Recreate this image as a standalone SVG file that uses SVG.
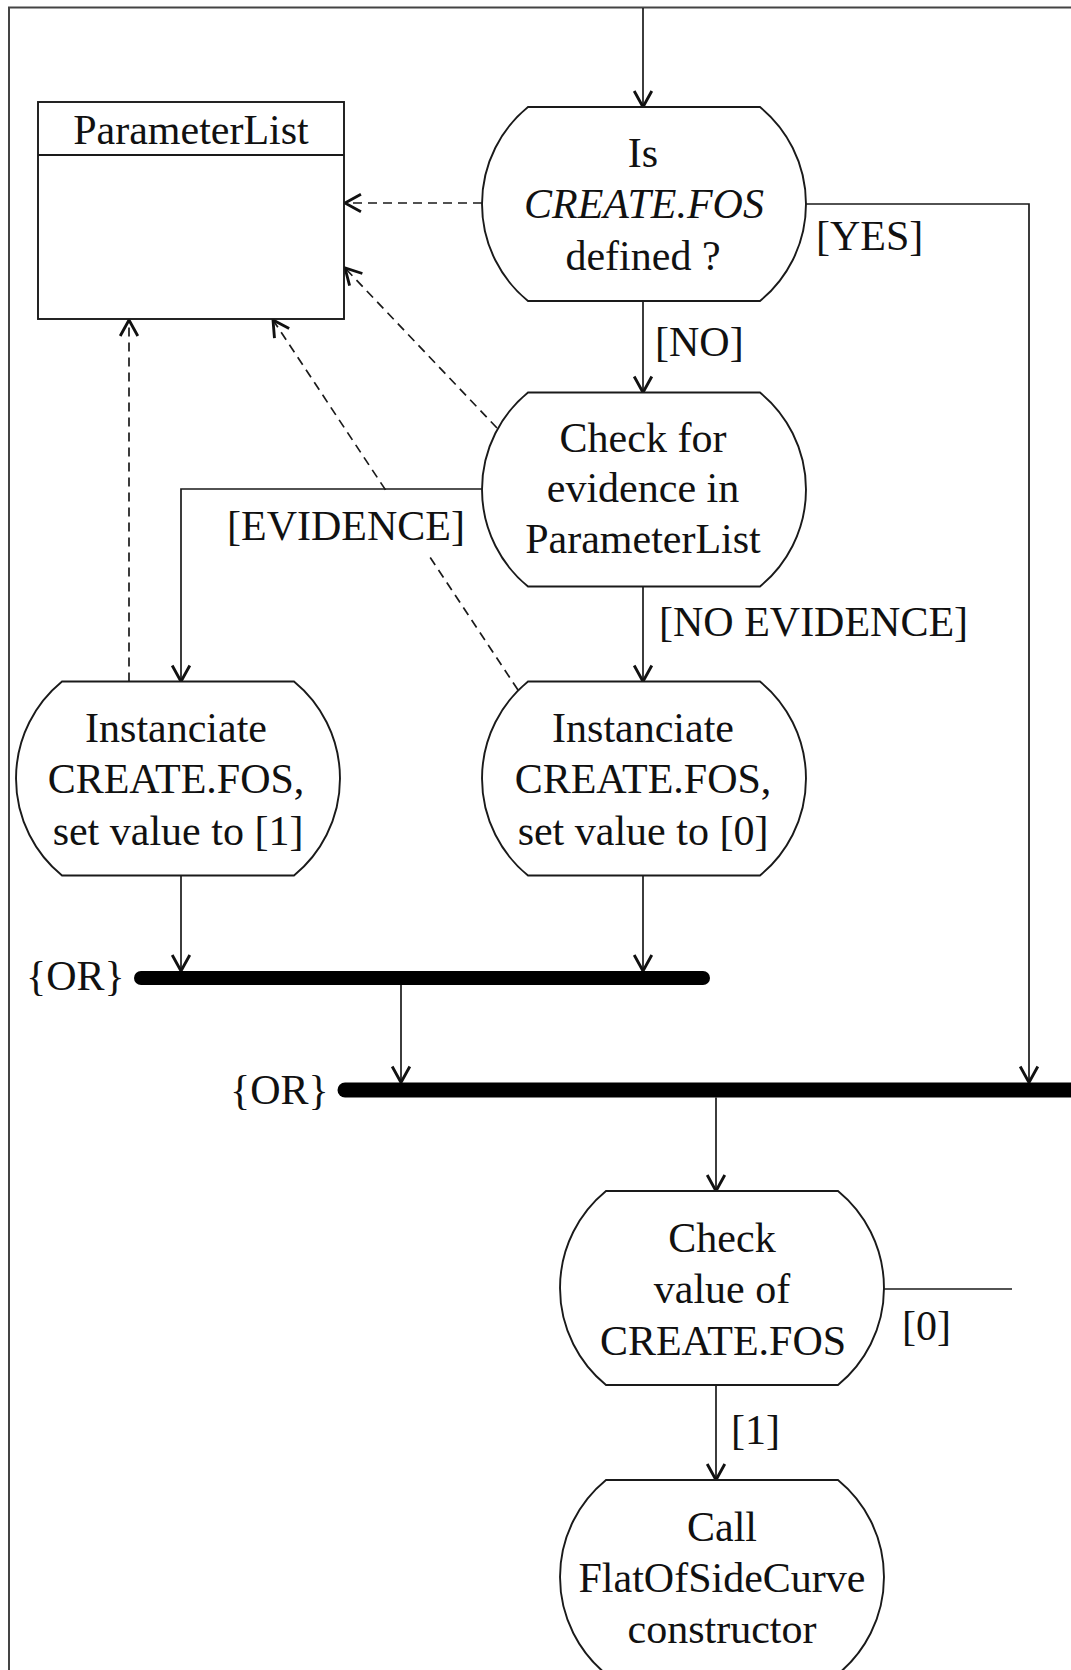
<svg xmlns="http://www.w3.org/2000/svg" width="1071" height="1670" viewBox="0 0 1071 1670">
<style>
  .node { fill: #fff; stroke: #1a1a1a; stroke-width: 1.9; }
  .t { font-family: "Liberation Serif", "Times New Roman", serif; font-size: 42px; fill: #111; }
  .c { text-anchor: middle; }
  .it { font-style: italic; }
  .flow { fill: none; stroke: #1a1a1a; stroke-width: 1.7; }
  .dep { fill: none; stroke: #1a1a1a; stroke-width: 1.7; stroke-dasharray: 9 6; }
  .bar { stroke: #000; stroke-linecap: round; }
</style>
<defs>
  <marker id="arr" markerUnits="userSpaceOnUse" markerWidth="22" markerHeight="22" viewBox="0 0 20 20" refX="18.5" refY="10" orient="auto">
    <path d="M4,2 L18.5,10 L4,18" fill="none" stroke="#111" stroke-width="2.6" stroke-dasharray="none" stroke-linejoin="miter"/>
  </marker>
</defs>
<rect width="1071" height="1670" fill="#fff"/>
<path d="M9,1670 V7.5 H1071" fill="none" stroke="#444" stroke-width="2"/>

<g id="connectors">
  <path class="flow" d="M643,8 V107" marker-end="url(#arr)"/>
  <path class="flow" d="M643,301 V392.5" marker-end="url(#arr)"/>
  <path class="flow" d="M643,586.5 V681.5" marker-end="url(#arr)"/>
  <path class="flow" d="M482,489 H181 V681.5" marker-end="url(#arr)"/>
  <path class="flow" d="M805,204 H1029 V1082.5" marker-end="url(#arr)"/>
  <path class="flow" d="M181,875.5 V971" marker-end="url(#arr)"/>
  <path class="flow" d="M643,875.5 V971" marker-end="url(#arr)"/>
  <path class="flow" d="M401,985 V1082.5" marker-end="url(#arr)"/>
  <path class="flow" d="M716,1097.5 V1191" marker-end="url(#arr)"/>
  <path class="flow" d="M716,1385 V1480" marker-end="url(#arr)"/>
  <path class="flow" d="M884,1289 H1012"/>
  <path class="dep" d="M482,203 H345" marker-end="url(#arr)"/>
  <path class="dep" d="M497,428 L345,268" marker-end="url(#arr)"/>
  <path class="dep" d="M129,681.5 V320" marker-end="url(#arr)"/>
  <path class="dep" d="M518,690 L273,320" marker-end="url(#arr)"/>
  <rect x="220" y="491" width="242" height="66" fill="#fff"/>
  <text class="t" x="816" y="250">[YES]</text>
  <text class="t" x="655" y="356">[NO]</text>
  <text class="t" x="227" y="540">[EVIDENCE]</text>
  <text class="t" x="659" y="636">[NO EVIDENCE]</text>
  <text class="t" x="902" y="1340">[0]</text>
  <text class="t" x="731" y="1444">[1]</text>
</g>

<g id="parameterlist">
  <rect x="38" y="102" width="306" height="217" fill="#fff" stroke="#1a1a1a" stroke-width="1.9"/>
  <line x1="38" y1="155" x2="344" y2="155" stroke="#1a1a1a" stroke-width="1.9"/>
  <text class="t c" x="191" y="144">ParameterList</text>
</g>

<g id="is-defined">
  <path class="node" d="M528,107 H760 A125.3,125.3 0 0 1 760,301 H528 A125.3,125.3 0 0 1 528,107 Z"/>
  <text class="t c" x="643" y="167">Is</text>
  <text class="t c it" x="644" y="218">CREATE.FOS</text>
  <text class="t c" x="643" y="270">defined ?</text>
</g>

<g id="check-evidence">
  <path class="node" d="M528,392.5 H760 A125.3,125.3 0 0 1 760,586.5 H528 A125.3,125.3 0 0 1 528,392.5 Z"/>
  <text class="t c" x="643" y="452">Check for</text>
  <text class="t c" x="643" y="502">evidence in</text>
  <text class="t c" x="643" y="553">ParameterList</text>
</g>

<g id="instanciate-1">
  <path class="node" d="M62,681.5 H294 A125.3,125.3 0 0 1 294,875.5 H62 A125.3,125.3 0 0 1 62,681.5 Z"/>
  <text class="t c" x="176" y="742">Instanciate</text>
  <text class="t c" x="176" y="793">CREATE.FOS,</text>
  <text class="t c" x="178" y="845">set value to [1]</text>
</g>

<g id="instanciate-0">
  <path class="node" d="M528,681.5 H760 A125.3,125.3 0 0 1 760,875.5 H528 A125.3,125.3 0 0 1 528,681.5 Z"/>
  <text class="t c" x="643" y="742">Instanciate</text>
  <text class="t c" x="643" y="793">CREATE.FOS,</text>
  <text class="t c" x="643" y="845">set value to [0]</text>
</g>

<g id="or-join-1">
  <line class="bar" x1="141" y1="978" x2="703" y2="978" stroke-width="14"/>
  <text class="t" x="26" y="990">{OR}</text>
</g>

<g id="or-join-2">
  <line class="bar" x1="345" y1="1090" x2="1085" y2="1090" stroke-width="15"/>
  <text class="t" x="230" y="1104">{OR}</text>
</g>

<g id="check-value">
  <path class="node" d="M606,1191 H838 A125.3,125.3 0 0 1 838,1385 H606 A125.3,125.3 0 0 1 606,1191 Z"/>
  <text class="t c" x="722" y="1252">Check</text>
  <text class="t c" x="722" y="1303">value of</text>
  <text class="t c" x="723" y="1355">CREATE.FOS</text>
</g>

<g id="call-constructor">
  <path class="node" d="M606,1480 H838 A125.3,125.3 0 0 1 838,1674 H606 A125.3,125.3 0 0 1 606,1480 Z"/>
  <text class="t c" x="722" y="1541">Call</text>
  <text class="t c" x="722" y="1592">FlatOfSideCurve</text>
  <text class="t c" x="722" y="1643">constructor</text>
</g>
</svg>
